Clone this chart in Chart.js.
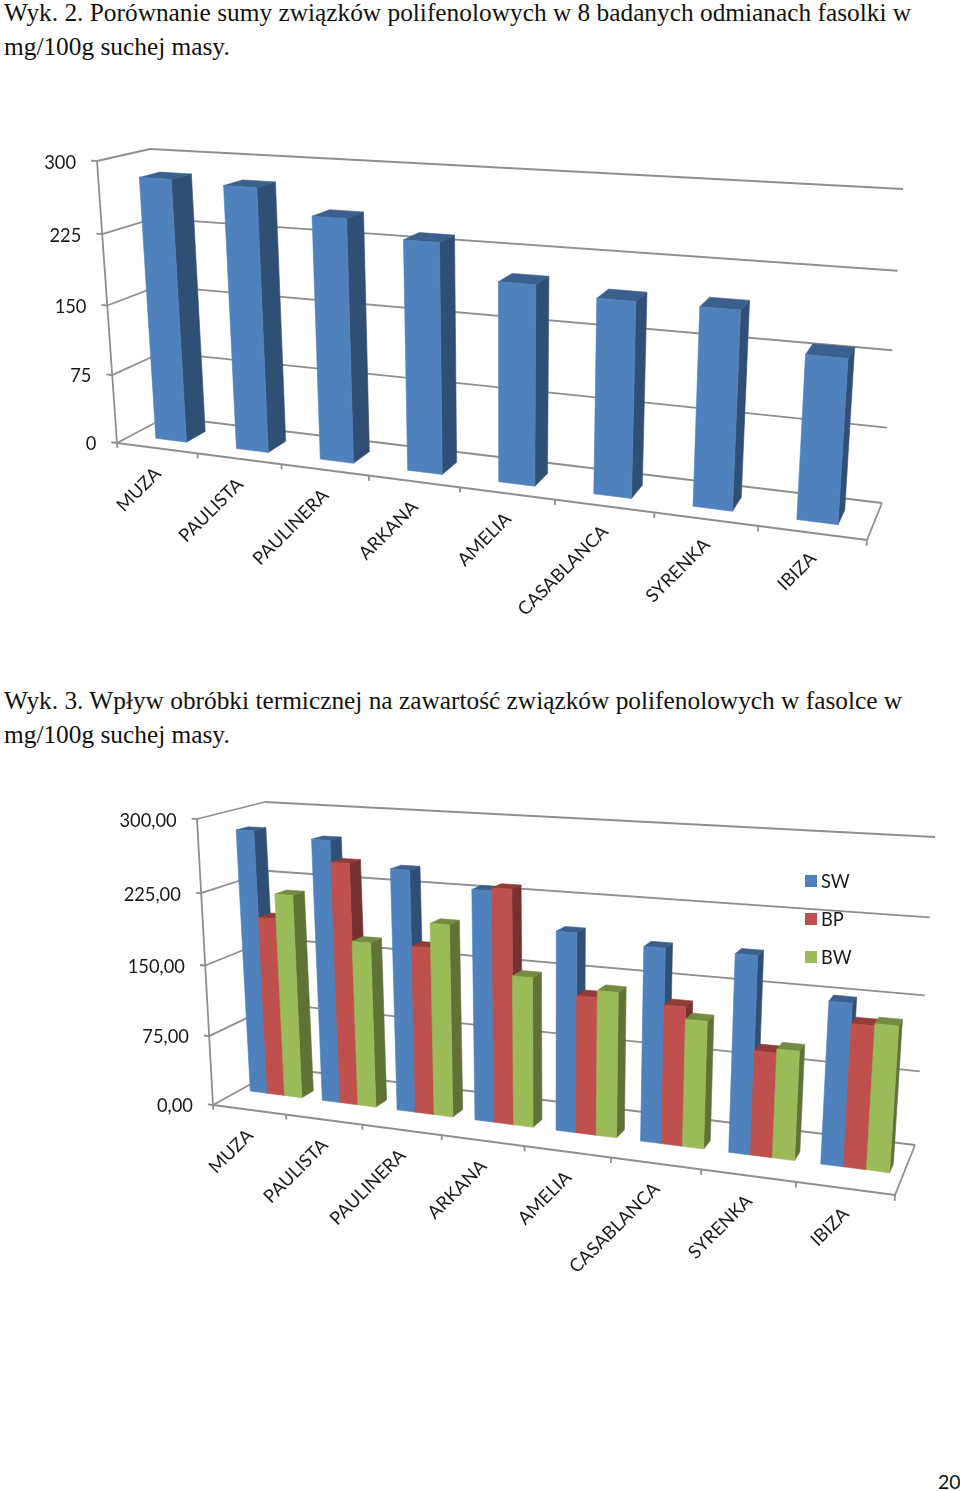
<!DOCTYPE html>
<html>
<head>
<meta charset="utf-8">
<script src="https://cdn.jsdelivr.net/npm/chart.js@4/dist/chart.umd.min.js"></script>
<style>
  html, body { margin: 0; background: #fff; }
  body { position: relative; width: 960px; height: 1491px; overflow: hidden; }
  .line { position: absolute; left: 4px; white-space: nowrap; font: 25.35px "Liberation Serif", serif; color: #111; }
  canvas { position: absolute; left: 0; }
  #page { position: absolute; left: 938px; top: 1470px; font: 19.5px Lato, sans-serif; color: #111; }
</style>
</head>
<body>
<div class="line" style="top:-2px">Wyk. 2. Porównanie sumy związków polifenolowych w 8 badanych odmianach fasolki w</div>
<div class="line" style="top:32px">mg/100g suchej masy.</div>
<canvas id="wyk2" width="960" height="500" style="top:130px"></canvas>
<div class="line" style="top:686px">Wyk. 3. Wpływ obróbki termicznej na zawartość związków polifenolowych w fasolce w</div>
<div class="line" style="top:720px">mg/100g suchej masy.</div>
<canvas id="wyk3" width="960" height="500" style="top:790px"></canvas>
<div id="page">20</div>
<script>
const odmiany = ['MUZA', 'PAULISTA', 'PAULINERA', 'ARKANA', 'AMELIA', 'CASABLANCA', 'SYRENKA', 'IBIZA'];

const suma = [281, 278, 253, 236, 202, 194, 194, 158];

const sw = [282, 277, 252, 237, 202, 194, 194, 157];
const bp = [192, 255, 175, 240, 140, 139, 103, 138];
const bw = [218, 175, 200, 154, 147, 127, 107, 140];

const BLUE = '#4f81bd', RED = '#c0504d', GREEN = '#9bbb59';
const GRID = '#8f8f8f';

// homography from the unit square to a quad [bl, br, tr, tl]
function quad(q) {
  const [p0, p1, p2, p3] = q;
  const dx1 = p1[0] - p2[0], dx2 = p3[0] - p2[0], sx = p0[0] - p1[0] + p2[0] - p3[0];
  const dy1 = p1[1] - p2[1], dy2 = p3[1] - p2[1], sy = p0[1] - p1[1] + p2[1] - p3[1];
  const den = dx1 * dy2 - dx2 * dy1;
  const g = (sx * dy2 - dx2 * sy) / den;
  const h = (dx1 * sy - sx * dy1) / den;
  const a = p1[0] - p0[0] + g * p1[0], b = p3[0] - p0[0] + h * p3[0], c = p0[0];
  const d = p1[1] - p0[1] + g * p1[1], e = p3[1] - p0[1] + h * p3[1], f = p0[1];
  return (u, v) => {
    const w = g * u + h * v + 1;
    return [(a * u + b * v + c) / w, (d * u + e * v + f) / w];
  };
}

function shade(hex, k) {
  const n = parseInt(hex.slice(1), 16);
  return `rgb(${(n >> 16) * k | 0},${((n >> 8) & 255) * k | 0},${(n & 255) * k | 0})`;
}

// draws the chart in perspective, everything goes through the chart's scales
const perspective = {
  id: 'perspective',
  beforeDatasetsDraw(chart, args, o) {
    const ctx = chart.ctx;
    const area = chart.chartArea;
    const xs = chart.scales.x, ys = chart.scales.y;
    const front = quad(o.front), back = quad(o.back);
    const P = (u, v, d) => {
      const a = front(u, v), b = back(u, v);
      return [a[0] + (b[0] - a[0]) * d, a[1] + (b[1] - a[1]) * d];
    };
    const U = px => (px - area.left) / (area.right - area.left);
    const V = px => (area.bottom - px) / (area.bottom - area.top);
    const line = (a, b) => {
      ctx.beginPath();
      ctx.moveTo(a[0], a[1]);
      ctx.lineTo(b[0], b[1]);
      ctx.stroke();
    };
    const face = (pts, color) => {
      ctx.fillStyle = color;
      ctx.strokeStyle = color;
      ctx.lineWidth = 0.6;
      ctx.beginPath();
      pts.forEach((p, i) => i ? ctx.lineTo(p[0], p[1]) : ctx.moveTo(p[0], p[1]));
      ctx.closePath();
      ctx.fill();
      ctx.stroke();
    };

    ctx.save();
    ctx.strokeStyle = GRID;
    ctx.lineWidth = 1.8;
    ctx.fillStyle = '#1a1a1a';
    ctx.font = '18.3px Lato, sans-serif';

    // value axis, walls
    line(P(0, 0, 0), P(0, 1, 0));
    ctx.textAlign = 'right';
    ctx.textBaseline = 'middle';
    ys.ticks.forEach(t => {
      const v = V(ys.getPixelForValue(t.value));
      const tip = P(-0.009, v, 0);
      line(tip, P(0, v, 0));
      line(P(0, v, 0), P(0, v, 1));
      line(P(0, v, 1), P(1, v, 1));
      ctx.fillText(o.format(t.value), tip[0] - 15, tip[1] + 2);
    });

    // floor and category axis
    line(P(0, 0, 0), P(1, 0, 0));
    line(P(1, 0, 0), P(1, 0, 1));
    odmiany.forEach((_, i) => {
      const l = xs.getPixelForValue(i) - (xs.getPixelForValue(1) - xs.getPixelForValue(0)) / 2;
      line(P(U(l), 0, 0), P(U(l), -0.018, 0));
    });
    line(P(1, 0, 0), P(1, -0.018, 0));
    odmiany.forEach((name, i) => {
      const c = P(U(xs.getPixelForValue(i)), 0, 0);
      ctx.save();
      ctx.translate(c[0] + 1, c[1] + 22.5);
      ctx.rotate(-Math.PI / 4);
      ctx.fillText(xs.getLabelForValue(i), 0, 0);
      ctx.restore();
    });

    // bars, left to right so a bar covers the side of the previous one
    const metas = chart.getSortedVisibleDatasetMetas();
    odmiany.forEach((_, i) => {
      metas.forEach(meta => {
        const el = meta.data[i].getProps(['x', 'y', 'width'], true);
        const color = chart.data.datasets[meta.index].backgroundColor;
        const l = U(el.x - el.width / 2), r = U(el.x + el.width / 2), top = V(el.y);
        const d0 = o.depth[0], d1 = o.depth[1];
        face([P(r, 0, d0), P(r, top, d0), P(r, top, d1), P(r, 0, d1)], shade(color, 0.62));
        face([P(l, top, d0), P(r, top, d0), P(r, top, d1), P(l, top, d1)], shade(color, 0.75));
        face([P(l, 0, d0), P(r, 0, d0), P(r, top, d0), P(l, top, d0)], color);
      });
    });

    // legend
    if (o.legend) {
      ctx.textAlign = 'left';
      chart.data.datasets.forEach((ds, i) => {
        const y = o.legend.y + i * o.legend.step;
        ctx.fillStyle = ds.backgroundColor;
        ctx.fillRect(o.legend.x, y - 6, 12, 12);
        ctx.fillStyle = '#1a1a1a';
        ctx.fillText(ds.label, o.legend.x + 16, y + 1);
      });
    }
    ctx.restore();
    return false;
  }
};

function makeChart(id, datasets, catPct, barPct, opts) {
  return new Chart(document.getElementById(id), {
    type: 'bar',
    data: {
      labels: odmiany,
      datasets: datasets.map(d => ({ ...d, categoryPercentage: catPct, barPercentage: barPct }))
    },
    options: {
      responsive: false,
      animation: false,
      devicePixelRatio: 1,
      scales: {
        x: { display: false },
        y: { display: false, min: 0, max: 300, ticks: { stepSize: 75 } }
      },
      plugins: { legend: { display: false }, tooltip: { enabled: false }, perspective: opts }
    },
    plugins: [perspective]
  });
}

// quads are [front-left bottom, right bottom, right top, left top], canvas coordinates
const top2 = 130;
makeChart('wyk2', [{ label: 'Suma', data: suma, backgroundColor: BLUE }], 1, 0.385, {
  front: [[117, 443 - top2], [867, 540 - top2], [889, 208 - top2], [97, 161 - top2]],
  back: [[166, 417 - top2], [882, 503 - top2], [903, 189 - top2], [150, 149 - top2]],
  depth: [0.30, 0.70],
  format: v => String(v)
});

const top3 = 790;
makeChart('wyk3', [
  { label: 'SW', data: sw, backgroundColor: BLUE },
  { label: 'BP', data: bp, backgroundColor: RED },
  { label: 'BW', data: bw, backgroundColor: GREEN }
], 0.72, 1, {
  front: [[213, 1105 - top3], [895, 1195 - top3], [917, 857 - top3], [197, 819 - top3]],
  back: [[280, 1068 - top3], [915, 1145 - top3], [935, 837 - top3], [265, 802 - top3]],
  depth: [0.41, 0.59],
  format: v => v.toFixed(2).replace('.', ','),
  legend: { x: 805, y: 881 - top3, step: 38 }
});
</script>
</body>
</html>
